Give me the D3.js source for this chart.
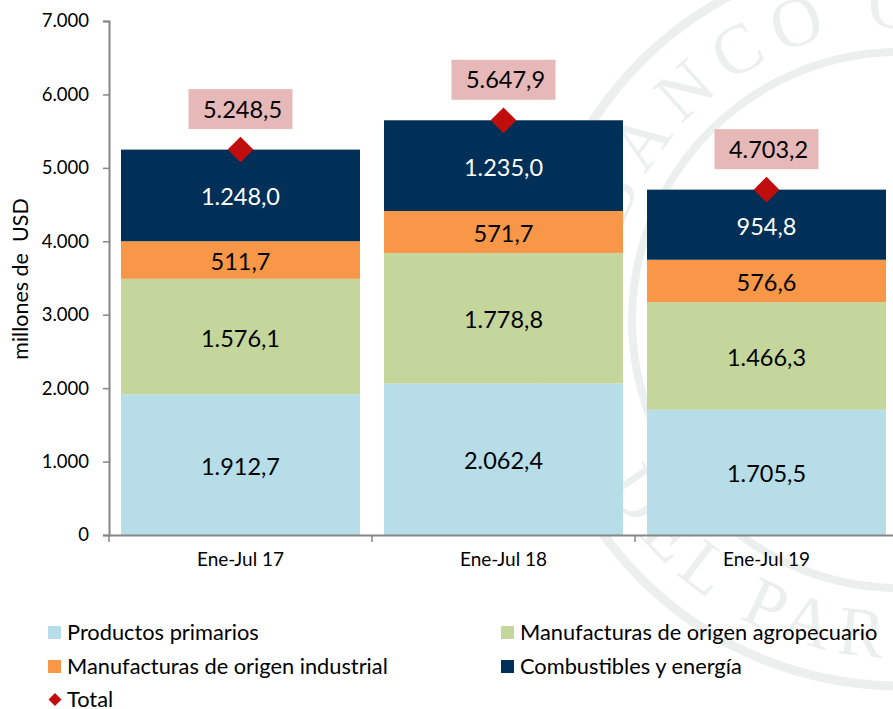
<!DOCTYPE html>
<html>
<head>
  <meta charset="utf-8">
  <script src="https://d3js.org/d3.v7.min.js"></script>
  <style>
    body { margin:0; background:#fff; font-family: Lato, sans-serif; }
    svg { display:block; }
    .axis path, .axis line { stroke:#868686; }
    .axis text { fill:#000; font-family: Lato, sans-serif; }
  </style>
</head>
<body>
  <script>
    // values
    var periods = ["Ene-Jul 17", "Ene-Jul 18", "Ene-Jul 19"];
    var primarios = [1912.7, 2062.4, 1705.5];
    var agropecuario = [1576.1, 1778.8, 1466.3];
    var industrial = [511.7, 571.7, 576.6];
    var combustibles = [1248.0, 1235.0, 954.8];
    var totals = [5248.5, 5647.9, 4703.2];
    var yTicks = [0, 1000, 2000, 3000, 4000, 5000, 6000, 7000];
    var seriesNames = ["Productos primarios", "Manufacturas de origen agropecuario",
                       "Manufacturas de origen industrial", "Combustibles y energía"];
    var seriesColors = ["#b7dde8", "#c4d69b", "#f79747", "#003057"];
    var labelColors = ["#000", "#000", "#000", "#fff"];

    var w = 893, h = 709;
    var x0 = 109, y0 = 535, yTop = 21;

    var svg = d3.select("body").append("svg")
      .attr("width", w)
      .attr("height", h);

    // watermark seal behind the chart
    var cx = 900, cy = 320;
    var seal = svg.append("g").attr("fill", "none").attr("stroke", "#ebefed");
    seal.append("circle").attr("cx", cx).attr("cy", cy).attr("r", 366).attr("stroke-width", 9);
    seal.append("circle").attr("cx", cx).attr("cy", cy).attr("r", 268).attr("stroke-width", 8);

    var defs = svg.append("defs");
    var topArc = d3.path();
    topArc.arc(cx, cy, 292, Math.PI, Math.PI * 2, false);
    defs.append("path").attr("id", "sealTop").attr("d", topArc.toString());
    var bottomArc = d3.path();
    bottomArc.arc(cx, cy, 338, Math.PI, 0, true);
    defs.append("path").attr("id", "sealBottom").attr("d", bottomArc.toString());

    var sealText = svg.append("g")
      .attr("fill", "#ebefed")
      .style("font-family", "'Liberation Serif', serif")
      .style("font-size", "70px");
    sealText.append("text").append("textPath")
      .attr("href", "#sealTop")
      .attr("startOffset", 92)
      .attr("letter-spacing", 12)
      .text("BANCO C");
    sealText.append("text").append("textPath")
      .attr("href", "#sealBottom")
      .attr("startOffset", 172)
      .attr("letter-spacing", 10)
      .text("DEL PAR");

    // scales
    var x = d3.scaleBand().domain(periods).range([x0, x0 + 263 * 3]).paddingInner(0.0913).paddingOuter(0.0456);
    var y = d3.scaleLinear().domain([0, 7000]).range([y0, yTop]);

    var numFormat = d3.formatLocale({ decimal: ",", thousands: ".", grouping: [3], currency: ["", ""] });
    var fmtLabel = numFormat.format(",.1f");
    var fmtTick = numFormat.format(",.0f");

    // stacked bars
    var rows = periods.map(function(p, i) {
      return { period: p, s0: primarios[i], s1: agropecuario[i], s2: industrial[i], s3: combustibles[i] };
    });
    var stacked = d3.stack().keys(["s0", "s1", "s2", "s3"])(rows);

    var layers = svg.selectAll(".layer")
      .data(stacked)
      .enter().append("g")
      .attr("class", "layer")
      .attr("fill", function(d, i) { return seriesColors[i]; });

    layers.selectAll("rect")
      .data(function(d) { return d; })
      .enter().append("rect")
      .attr("x", function(d) { return x(d.data.period); })
      .attr("width", x.bandwidth())
      .attr("y", function(d) { return y(d[1]); })
      .attr("height", function(d) { return y(d[0]) - y(d[1]); });

    layers.selectAll("text")
      .data(function(d, i) { return d.map(function(e) { return { e: e, i: i }; }); })
      .enter().append("text")
      .attr("x", function(d) { return x(d.e.data.period) + x.bandwidth() / 2; })
      .attr("y", function(d) { return (y(d.e[0]) + y(d.e[1])) / 2 + 10; })
      .attr("text-anchor", "middle")
      .attr("fill", function(d) { return labelColors[d.i]; })
      .style("font-size", "23.5px")
      .text(function(d) { return fmtLabel(d.e[1] - d.e[0]); });

    // axes
    var yAxis = d3.axisLeft(y)
      .tickValues(yTicks)
      .tickSize(6)
      .tickPadding(14)
      .tickFormat(fmtTick);
    var gy = svg.append("g").attr("class", "axis")
      .attr("transform", "translate(" + x0 + ",0)")
      .call(yAxis);
    gy.selectAll("line").attr("stroke-width", 1.5);
    gy.select(".domain").attr("stroke-width", 2);
    gy.selectAll("text").style("font-size", "18.5px");

    var xAxis = d3.axisBottom(x).tickSize(0).tickPadding(18);
    var gx = svg.append("g").attr("class", "axis")
      .attr("transform", "translate(0," + y0 + ")")
      .call(xAxis);
    gx.select(".domain").attr("stroke-width", 2);
    gx.selectAll("text").style("font-size", "19px");

    // separators between the categories on the x axis
    gx.selectAll(".sep")
      .data([0, 1, 2])
      .enter().append("line")
      .attr("class", "sep")
      .attr("x1", function(d) { return x(periods[d]) - x.step() * 0.0456; })
      .attr("x2", function(d) { return x(periods[d]) - x.step() * 0.0456; })
      .attr("y1", 0)
      .attr("y2", 7)
      .attr("stroke-width", 1.5);

    svg.append("text")
      .attr("transform", "translate(28,279) rotate(-90)")
      .attr("text-anchor", "middle")
      .style("font-size", "21.5px")
      .style("white-space", "pre")
      .text("millones de  USD");

    // total markers and their label boxes
    var totalG = svg.selectAll(".total")
      .data(totals)
      .enter().append("g")
      .attr("class", "total")
      .attr("transform", function(d, i) {
        return "translate(" + (x(periods[i]) + x.bandwidth() / 2) + "," + y(d) + ")";
      });

    totalG.append("rect")
      .attr("x", -52).attr("y", -60.5)
      .attr("width", 104).attr("height", 40)
      .attr("fill", "#e6b8b7");
    totalG.append("text")
      .attr("x", 2).attr("y", -32)
      .attr("text-anchor", "middle")
      .attr("fill", "#000")
      .style("font-size", "23.5px")
      .text(fmtLabel);
    totalG.append("path")
      .attr("d", d3.symbol().type(d3.symbolSquare).size(331))
      .attr("transform", "rotate(45)")
      .attr("fill", "#c00d0d");

    // legend
    var legendX = [48, 501, 48, 501];
    var legendY = [640, 640, 674, 674];
    var legend = svg.selectAll(".legend")
      .data(seriesNames)
      .enter().append("g")
      .attr("class", "legend")
      .attr("transform", function(d, i) { return "translate(" + legendX[i] + "," + legendY[i] + ")"; });
    legend.append("rect")
      .attr("x", 0).attr("y", -14)
      .attr("width", 13).attr("height", 13)
      .attr("fill", function(d, i) { return seriesColors[i]; });
    legend.append("text")
      .attr("x", 19)
      .style("font-size", "21.8px")
      .text(function(d) { return d; });

    var legendTotal = svg.append("g").attr("transform", "translate(48,707)");
    legendTotal.append("path")
      .attr("d", d3.symbol().type(d3.symbolSquare).size(84))
      .attr("transform", "translate(7,-7.5) rotate(45)")
      .attr("fill", "#c00d0d");
    legendTotal.append("text")
      .attr("x", 19)
      .style("font-size", "21.8px")
      .text("Total");
  </script>
</body>
</html>
